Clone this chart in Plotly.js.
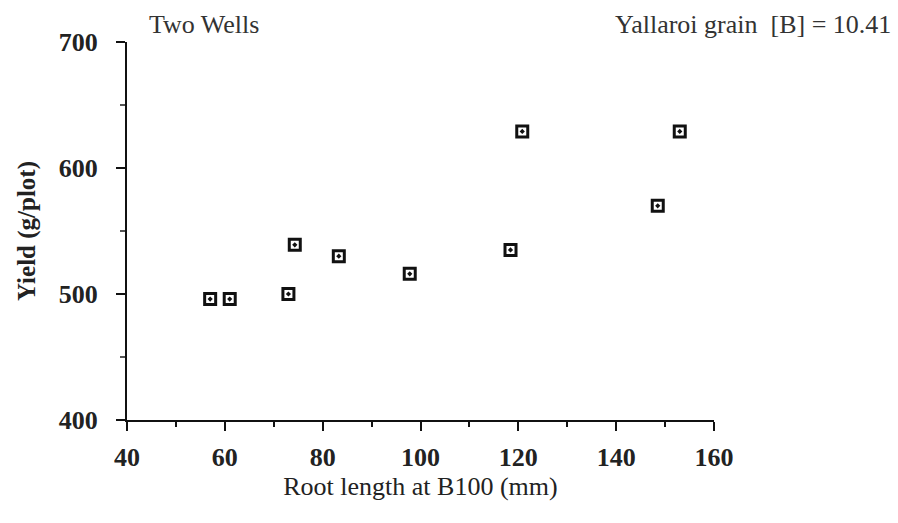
<!DOCTYPE html>
<html>
<head>
<meta charset="utf-8">
<script src="https://cdn.plot.ly/plotly-3.0.1.min.js"></script>
<style>
  html, body { margin: 0; padding: 0; background: #fff; }
  #chart { width: 898px; height: 523px; }
</style>
</head>
<body>
<div id="chart"></div>
<script>
// Root length at B100 (mm) against grain yield (g/plot), Two Wells site
const rootLength = [57, 61, 73, 74.3, 83.3, 97.8, 118.4, 120.8, 148.5, 153];
const yieldGPlot = [496, 496, 500, 539, 530, 516, 535, 629, 570, 629];

const xTickVals = [40, 60, 80, 100, 120, 140, 160];
const yTickVals = [400, 500, 600, 700];

const siteLabel = 'Two Wells';
const statLabel = 'Yallaroi grain&nbsp;&nbsp;[B] = 10.41';
const xTitle = 'Root length at B100 (mm)';
const yTitle = 'Yield (g/plot)';

const serif = 'Liberation Serif, Times New Roman, serif';

const trace = {
  type: 'scatter',
  mode: 'markers',
  x: rootLength,
  y: yieldGPlot,
  marker: {
    symbol: 'square-open-dot',
    size: 11,
    color: '#111',
    line: { color: '#111', width: 3 }
  },
  hoverinfo: 'x+y'
};

const axisCommon = {
  showgrid: false,
  zeroline: false,
  showline: true,
  linecolor: '#111',
  linewidth: 2,
  ticks: 'outside',
  ticklen: 9,
  tickwidth: 2,
  tickcolor: '#111',
  tickfont: { family: serif, size: 26, color: '#222', weight: 'bold' },
  fixedrange: true
};

const layout = {
  width: 898,
  height: 523,
  paper_bgcolor: '#fff',
  plot_bgcolor: '#fff',
  margin: { l: 127, r: 184, t: 42, b: 103 },
  showlegend: false,
  xaxis: Object.assign({}, axisCommon, {
    range: [40, 160],
    tickvals: xTickVals,
    ticktext: xTickVals.map(String),
    ticklabelstandoff: 4,
    minor: { dtick: 10, tick0: 40, ticks: 'outside', ticklen: 5, tickwidth: 2, tickcolor: '#111' },
    title: { text: xTitle, font: { family: serif, size: 26, color: '#222' }, standoff: 6 }
  }),
  yaxis: Object.assign({}, axisCommon, {
    range: [400, 700],
    tickvals: yTickVals,
    ticktext: yTickVals.map(String),
    ticklabelstandoff: 13,
    minor: { dtick: 50, tick0: 400, ticks: 'outside', ticklen: 5, tickwidth: 2, tickcolor: '#555' },
    title: { text: yTitle, font: { family: serif, size: 25, color: '#222', weight: 'bold' }, standoff: 16 }
  }),
  annotations: [
    {
      text: siteLabel,
      xref: 'paper', yref: 'paper',
      x: 0.034, y: 1.045,
      xanchor: 'left', yanchor: 'middle',
      showarrow: false,
      font: { family: serif, size: 26, color: '#333' }
    },
    {
      text: statLabel,
      xref: 'paper', yref: 'paper',
      x: 1.305, y: 1.045,
      xanchor: 'right', yanchor: 'middle',
      showarrow: false,
      font: { family: serif, size: 26, color: '#333' }
    }
  ]
};

Plotly.newPlot('chart', [trace], layout, { displayModeBar: false, staticPlot: true });
</script>
</body>
</html>
